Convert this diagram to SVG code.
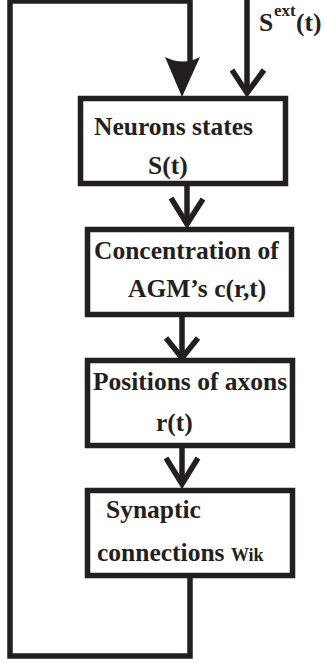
<svg xmlns="http://www.w3.org/2000/svg" width="327" height="663" viewBox="0 0 327 663">
<style>
.box{fill:#fff;stroke:#231f20;stroke-width:5.5}
.ln{fill:none;stroke:#231f20;stroke-width:5.5;stroke-linejoin:miter}
.t{font-family:"Liberation Serif","Times New Roman",serif;font-weight:bold;font-size:25.5px;fill:#231f20}
.s{font-size:17px}
.w{font-size:18px}
</style>
<rect width="327" height="663" fill="#fff"/>
<g id="connectors">
<path class="ln" d="M190,578 V656 H10 V1 H190 V62"/>
<path d="M165,57 Q183,66 200,57 L182,97 Z" fill="#231f20"/>
<path class="ln" d="M247,0 V93"/>
<path class="ln" d="M232,70 L247,93 L264,70"/>
<path class="ln" d="M187,186 V224"/>
<path class="ln" d="M171,198 L187,224 L203,199"/>
<path class="ln" d="M182,317 V357"/>
<path class="ln" d="M166,338 L182,358 L198,338"/>
<path class="ln" d="M182,448 V484"/>
<path class="ln" d="M166,458 L182,484 L198,458"/>
</g>
<g id="ext-label">
<text class="t" x="259" y="31">S</text>
<text class="t s" x="274" y="16">ext</text>
<text class="t" x="296" y="31">(t)</text>
</g>
<g id="node-neurons">
<rect class="box" x="80.5" y="98.5" width="205" height="85"/>
<text class="t" x="94" y="135">Neurons states</text>
<text class="t" x="148" y="174">S(t)</text>
</g>
<g id="node-concentration">
<rect class="box" x="87.5" y="229.5" width="204" height="85"/>
<text class="t" x="94" y="259">Concentration of</text>
<text class="t" x="128" y="297">AGM’s c(r,t)</text>
</g>
<g id="node-positions">
<rect class="box" x="87.5" y="360.5" width="205" height="85"/>
<text class="t" x="93" y="390">Positions of axons</text>
<text class="t" x="156" y="431">r(t)</text>
</g>
<g id="node-synaptic">
<rect class="box" x="87.5" y="490.5" width="205" height="85"/>
<text class="t" x="106" y="518">Synaptic</text>
<text class="t" x="97" y="561">connections <tspan class="w">Wik</tspan></text>
</g>
</svg>
